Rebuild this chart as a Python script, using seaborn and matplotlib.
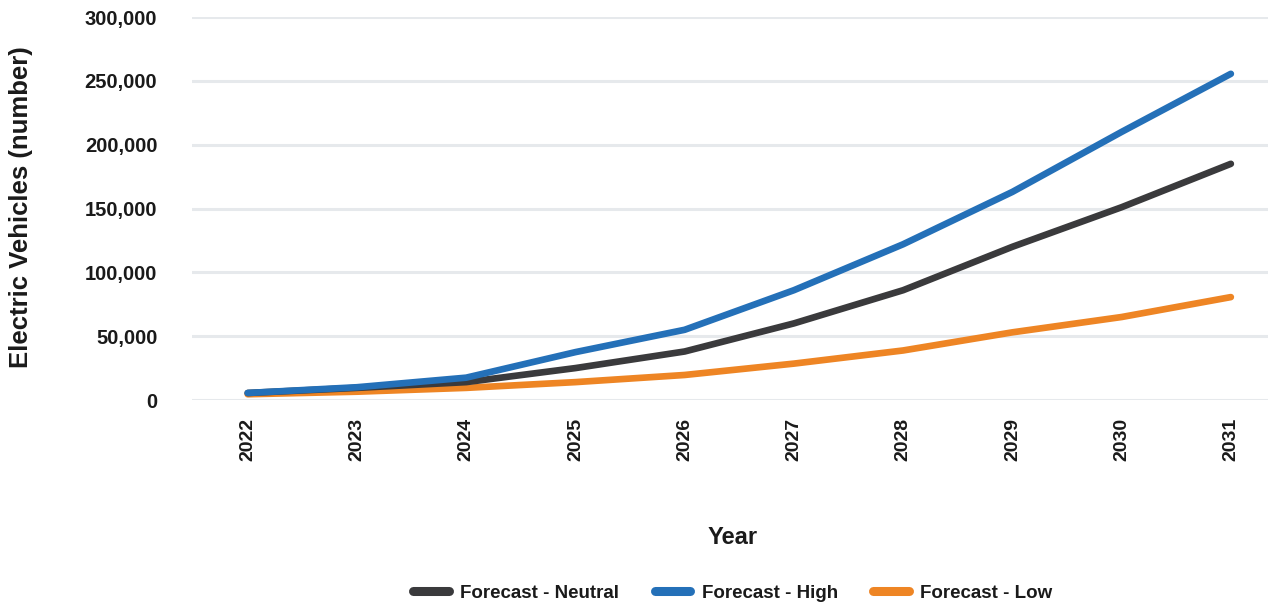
import matplotlib
matplotlib.use("Agg")
import matplotlib.pyplot as plt
from matplotlib.lines import Line2D
from matplotlib.ticker import FuncFormatter
import seaborn as sns
import pandas as pd

years = [2022, 2023, 2024, 2025, 2026, 2027, 2028, 2029, 2030, 2031]
neutral = [5500, 9500, 14000, 25000, 38000, 60000, 86000, 120000, 151000, 185000]
high = [5500, 10000, 17500, 37500, 55000, 86000, 122000, 163000, 210000, 255500]
low = [4500, 6500, 9500, 14000, 19600, 28500, 38800, 53000, 65000, 80600]
series_names = ["Forecast - Neutral", "Forecast - High", "Forecast - Low"]
colors = ["#3a3a3c", "#2470b8", "#ee8524"]
y_ticks = [0, 50000, 100000, 150000, 200000, 250000, 300000]

sns.set_theme(style="white")
plt.rcParams["font.family"] = ["Liberation Sans", "DejaVu Sans"]

W, H = 1271, 602
fig = plt.figure(figsize=(W / 100, H / 100), dpi=100)
ax = fig.add_axes([192 / W, 1 - 400 / H, (1268 - 192) / W, (400 - 17) / H])

df = pd.DataFrame({"Year": years, series_names[0]: neutral,
                   series_names[1]: high, series_names[2]: low})

zorders = [3, 4, 2]
for name, col, z in zip(series_names, colors, zorders):
    sns.lineplot(data=df, x="Year", y=name, ax=ax, color=col, linewidth=4.8,
                 zorder=z, solid_capstyle="round", solid_joinstyle="round",
                 legend=False)

ax.set_xlim(2021.49, 2031.34)
ax.set_ylim(0, 300000)
ax.set_yticks(y_ticks)
ax.set_xticks(years)
ax.set_xticklabels([str(y) for y in years], rotation=90, fontweight="bold",
                   fontsize=14, color="#1a1a1a")
ax.yaxis.set_major_formatter(FuncFormatter(lambda v, p: f"{int(v):,}"))
for lab in ax.get_yticklabels():
    lab.set_fontweight("bold")
    lab.set_fontsize(14.5)
    lab.set_color("#1a1a1a")
ax.tick_params(axis="y", length=0, pad=25)
ax.tick_params(axis="x", length=0, pad=13)

ax.grid(axis="y", color="#e6e9ec", linewidth=2.2, zorder=0)
ax.grid(axis="x", visible=False)
ax.set_axisbelow(True)
for s in ax.spines.values():
    s.set_visible(False)

ax.set_xlabel("")
ax.set_ylabel("")
fig.text(733 / W, 1 - 537 / H, "Year", ha="center", va="center",
         fontsize=17, fontweight="bold", color="#1a1a1a")
fig.text(21 / W, 1 - 207 / H, "Electric Vehicles (number)", ha="center",
         va="center", rotation=90, fontsize=18.5, fontweight="bold",
         color="#1a1a1a")

handles = [Line2D([0], [0], color=c, linewidth=6.5, solid_capstyle="round")
           for c in colors]
fig.legend(handles, series_names, loc="center",
           bbox_to_anchor=(733 / W, 1 - 593 / H), ncol=3, frameon=False,
           prop={"weight": "bold", "size": 13.5}, handlelength=1.9,
           columnspacing=1.9, handletextpad=0.6, labelcolor="#1a1a1a")

fig.savefig("out.png", dpi=100)
